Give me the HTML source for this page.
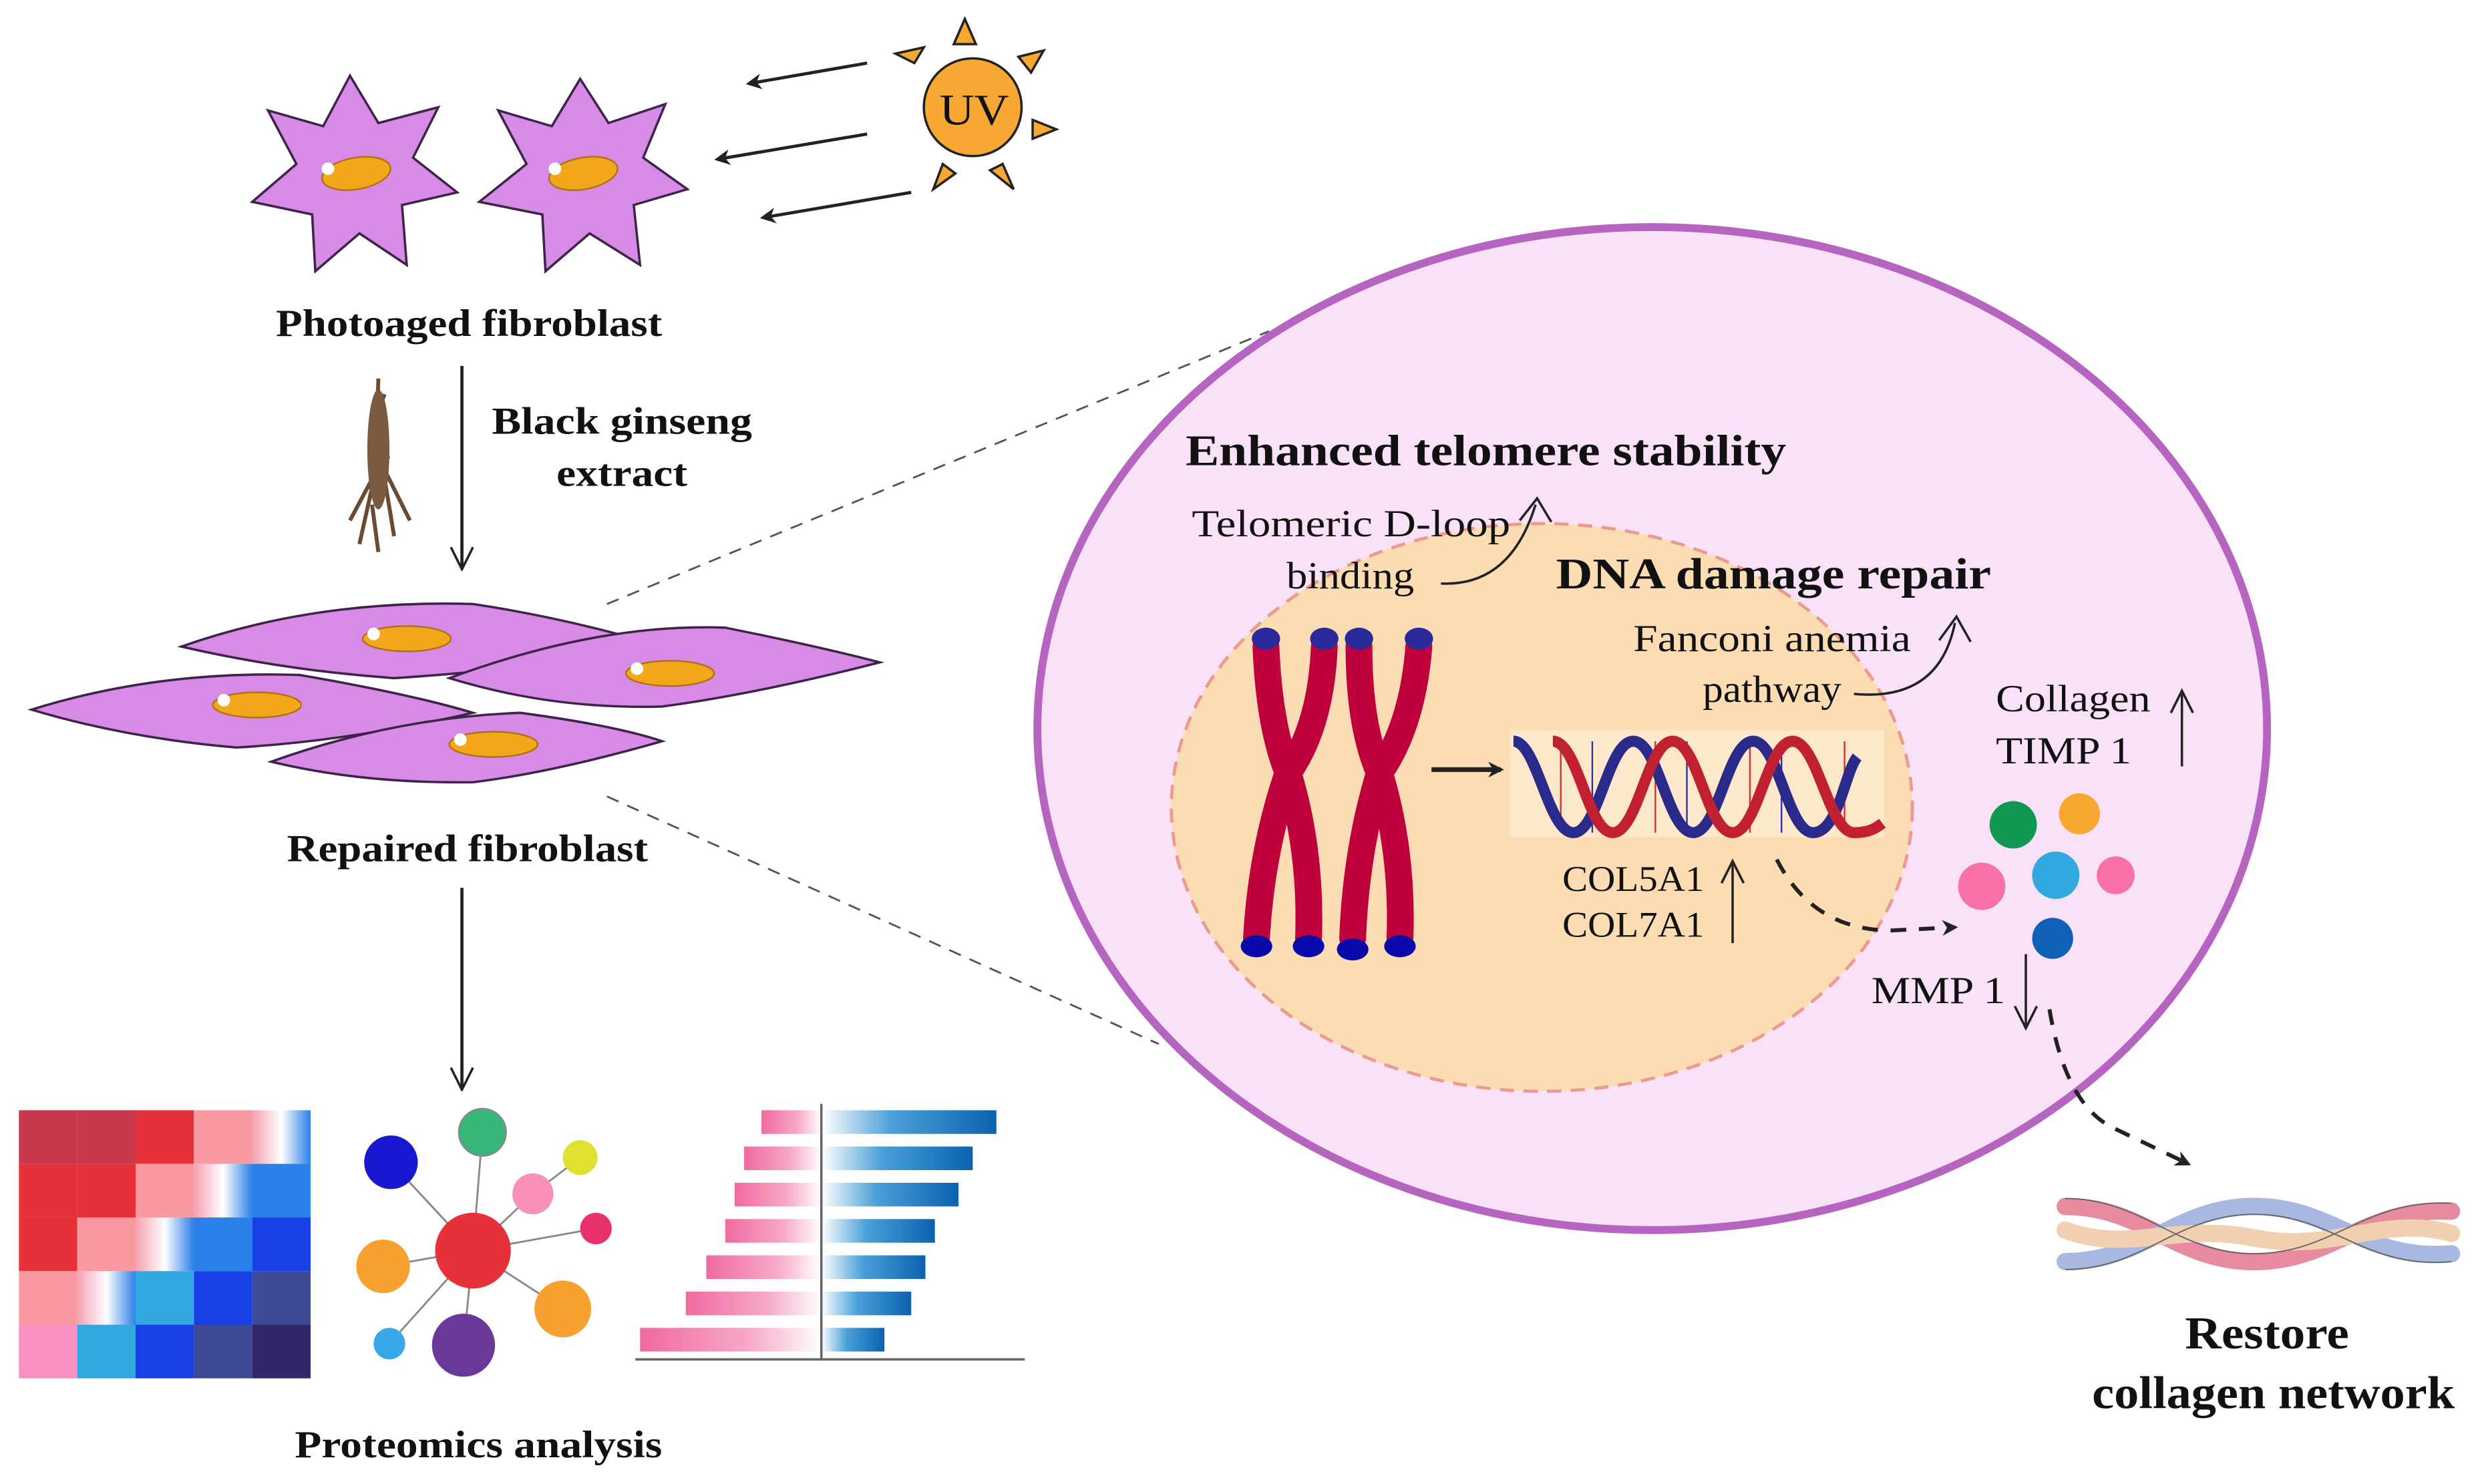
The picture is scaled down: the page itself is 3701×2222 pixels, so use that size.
<!DOCTYPE html>
<html><head><meta charset="utf-8"><style>
html,body{margin:0;padding:0;background:#fff}
svg{display:block}
text{font-family:"Liberation Serif",serif;fill:#111}
.b{font-weight:bold}
</style></head><body>
<svg width="3701" height="2222" viewBox="0 0 1568 941" preserveAspectRatio="none" xmlns="http://www.w3.org/2000/svg">
<defs>
<marker id="ah" markerWidth="10" markerHeight="10" refX="8" refY="5" orient="auto" markerUnits="userSpaceOnUse"><path d="M0,0 L10,5 L0,10 L3,5 z" fill="#222"/></marker>
<marker id="oa" markerWidth="16" markerHeight="16" refX="8" refY="14" orient="0" markerUnits="userSpaceOnUse"><path d="M1,1 L8,15 L15,1" fill="none" stroke="#222" stroke-width="1.5"/></marker>
<linearGradient id="pk" x1="0" x2="1"><stop offset="0" stop-color="#f06aa0"/><stop offset="0.6" stop-color="#f7a8c8"/><stop offset="1" stop-color="#fff"/></linearGradient>
<linearGradient id="bl" x1="0" x2="1"><stop offset="0" stop-color="#fff"/><stop offset="0.4" stop-color="#4aa0d8"/><stop offset="1" stop-color="#0a62b0"/></linearGradient>
<linearGradient id="hm1" x1="0" x2="1"><stop offset="0" stop-color="#f4a0b0"/><stop offset="0.5" stop-color="#fff"/><stop offset="1" stop-color="#2a80e8"/></linearGradient>
</defs>

<line x1="385" y1="383" x2="805" y2="210" stroke="#555" stroke-width="1.2" stroke-dasharray="8,6"/>
<line x1="385" y1="505" x2="735" y2="662" stroke="#555" stroke-width="1.2" stroke-dasharray="8,6"/>

<g stroke="#3d2448" stroke-width="1.5" fill="#d78ae6">
<path d="M222,48 L240,78 L278,68 L262,100 L290,122 L255,130 L258,168 L228,148 L200,172 L198,136 L160,128 L188,104 L170,70 L205,80 Z"/>
<path d="M368,50 L386,78 L422,66 L408,100 L436,120 L402,130 L406,168 L374,148 L346,172 L344,136 L304,128 L334,104 L316,70 L350,80 Z"/>
</g>
<g fill="#f2a81a" stroke="#b07010" stroke-width="1"><ellipse cx="226" cy="110" rx="22" ry="10" transform="rotate(-10 226 110)"/><ellipse cx="370" cy="110" rx="22" ry="10" transform="rotate(-10 370 110)"/></g>
<g fill="#fff"><circle cx="208" cy="107" r="4"/><circle cx="352" cy="107" r="4"/></g>

<g fill="#f7a833" stroke="#222" stroke-width="1.5">
<circle cx="617" cy="68" r="31"/>
<path d="M605,28 L612,12 L619,28Z"/><path d="M646,36 L662,32 L654,46Z"/><path d="M655,76 L670,82 L655,88Z"/>
<path d="M636,104 L643,120 L628,108Z"/><path d="M598,104 L592,120 L606,110Z"/><path d="M580,40 L568,34 L586,30Z"/>
</g>
<text x="596" y="79" font-size="28" textLength="44" lengthAdjust="spacingAndGlyphs">UV</text>
<g stroke="#222" stroke-width="2" marker-end="url(#ah)">
<line x1="550" y1="40" x2="475" y2="53"/><line x1="550" y1="85" x2="455" y2="101"/><line x1="578" y1="122" x2="484" y2="138"/>
</g>

<text x="175" y="213" font-size="24" class="b" textLength="245" lengthAdjust="spacingAndGlyphs">Photoaged fibroblast</text>
<line x1="293" y1="232" x2="293" y2="360" stroke="#222" stroke-width="2" marker-end="url(#oa)"/>
<text x="312" y="275" font-size="24" class="b" textLength="165" lengthAdjust="spacingAndGlyphs">Black ginseng</text>
<text x="353" y="308" font-size="24" class="b" textLength="83" lengthAdjust="spacingAndGlyphs">extract</text>
<g stroke="#6b4a32" stroke-width="2.5" fill="none">
<path d="M240,240 L238,300 L228,345 M240,280 L250,340 M238,300 L222,330 M245,300 L260,330 M236,320 L240,350 M244,250 L236,270 L246,290 L234,310"/>
</g>
<ellipse cx="240" cy="285" rx="7" ry="38" fill="#7a5a40"/>

<g fill="#d78ae6" stroke="#3d2448" stroke-width="1.5">
<path d="M115,410 Q200,380 300,383 Q360,392 420,410 Q330,425 250,430 Q180,425 115,410Z"/>
<path d="M285,430 Q380,395 460,398 Q520,410 558,420 Q480,440 420,448 Q350,450 285,430Z"/>
<path d="M20,450 Q100,425 190,428 Q260,440 300,452 Q220,470 150,474 Q80,468 20,450Z"/>
<path d="M172,483 Q250,455 330,452 Q390,460 420,470 Q350,490 300,496 Q230,497 172,483Z"/>
</g>
<g fill="#f2a81a" stroke="#b07010"><ellipse cx="258" cy="405" rx="28" ry="8"/><ellipse cx="425" cy="427" rx="28" ry="8"/><ellipse cx="163" cy="447" rx="28" ry="8"/><ellipse cx="313" cy="472" rx="28" ry="8"/></g>
<g fill="#fff"><circle cx="237" cy="402" r="4"/><circle cx="404" cy="424" r="4"/><circle cx="142" cy="444" r="4"/><circle cx="292" cy="469" r="4"/></g>

<text x="182" y="546" font-size="24" class="b" textLength="229" lengthAdjust="spacingAndGlyphs">Repaired  fibroblast</text>
<line x1="293" y1="563" x2="293" y2="690" stroke="#222" stroke-width="2" marker-end="url(#oa)"/>

<g>
<rect x="12" y="704" width="37" height="34" fill="#c8384a"/><rect x="49" y="704" width="37" height="34" fill="#c8384a"/><rect x="86" y="704" width="37" height="34" fill="#e8303a"/><rect x="123" y="704" width="37" height="34" fill="#f89aa0"/><rect x="160" y="704" width="37" height="34" fill="url(#hm1)"/>
<rect x="12" y="738" width="37" height="34" fill="#e8303a"/><rect x="49" y="738" width="37" height="34" fill="#e8303a"/><rect x="86" y="738" width="37" height="34" fill="#f89aa0"/><rect x="123" y="738" width="37" height="34" fill="url(#hm1)"/><rect x="160" y="738" width="37" height="34" fill="#2a80e8"/>
<rect x="12" y="772" width="37" height="34" fill="#e8303a"/><rect x="49" y="772" width="37" height="34" fill="#f89aa0"/><rect x="86" y="772" width="37" height="34" fill="url(#hm1)"/><rect x="123" y="772" width="37" height="34" fill="#2a80e8"/><rect x="160" y="772" width="37" height="34" fill="#1840e8"/>
<rect x="12" y="806" width="37" height="34" fill="#f89aa0"/><rect x="49" y="806" width="37" height="34" fill="url(#hm1)"/><rect x="86" y="806" width="37" height="34" fill="#30a8e0"/><rect x="123" y="806" width="37" height="34" fill="#1840e8"/><rect x="160" y="806" width="37" height="34" fill="#404898"/>
<rect x="12" y="840" width="37" height="34" fill="#f890c0"/><rect x="49" y="840" width="37" height="34" fill="#30a8e0"/><rect x="86" y="840" width="37" height="34" fill="#1840e8"/><rect x="123" y="840" width="37" height="34" fill="#404898"/><rect x="160" y="840" width="37" height="34" fill="#302868"/>
</g>

<g stroke="#888" stroke-width="1.2">
<line x1="300" y1="793" x2="248" y2="737"/><line x1="300" y1="793" x2="306" y2="718"/><line x1="300" y1="793" x2="338" y2="757"/><line x1="338" y1="757" x2="368" y2="734"/><line x1="300" y1="793" x2="378" y2="779"/><line x1="300" y1="793" x2="243" y2="803"/><line x1="300" y1="793" x2="357" y2="830"/><line x1="300" y1="793" x2="294" y2="853"/><line x1="300" y1="793" x2="247" y2="852"/>
</g>
<circle cx="300" cy="793" r="24" fill="#e8303a"/><circle cx="248" cy="737" r="17" fill="#1818d0"/><circle cx="306" cy="718" r="15" fill="#38b878" stroke="#888"/><circle cx="338" cy="757" r="13" fill="#f890b8"/><circle cx="368" cy="734" r="11" fill="#e0e030"/><circle cx="378" cy="779" r="10" fill="#e8306a"/><circle cx="243" cy="803" r="17" fill="#f8a030"/><circle cx="357" cy="830" r="18" fill="#f8a030"/><circle cx="294" cy="853" r="20" fill="#6a3898"/><circle cx="247" cy="852" r="10" fill="#38a8e8"/>

<g fill="url(#pk)">
<rect x="483" y="704" width="38" height="15"/><rect x="472" y="727" width="49" height="15"/><rect x="466" y="750" width="55" height="15"/><rect x="460" y="773" width="61" height="15"/><rect x="448" y="796" width="73" height="15"/><rect x="435" y="819" width="86" height="15"/><rect x="406" y="842" width="115" height="15"/>
</g>
<g fill="url(#bl)">
<rect x="521" y="704" width="111" height="15"/><rect x="521" y="727" width="96" height="15"/><rect x="521" y="750" width="87" height="15"/><rect x="521" y="773" width="72" height="15"/><rect x="521" y="796" width="66" height="15"/><rect x="521" y="819" width="57" height="15"/><rect x="521" y="842" width="40" height="15"/>
</g>
<line x1="521" y1="700" x2="521" y2="862" stroke="#666" stroke-width="1.5"/>
<line x1="403" y1="862" x2="650" y2="862" stroke="#666" stroke-width="1.5"/>

<text x="187" y="924" font-size="24" class="b" textLength="233" lengthAdjust="spacingAndGlyphs">Proteomics analysis</text>

<ellipse cx="1048" cy="462" rx="390" ry="318" fill="#f9e1f7" stroke="#b565c0" stroke-width="5"/>
<ellipse cx="978" cy="512" rx="235" ry="180" fill="#fbdcb3" stroke="#ec9a90" stroke-width="2" stroke-dasharray="9,6"/>

<text x="752" y="295" font-size="28" class="b" textLength="381" lengthAdjust="spacingAndGlyphs">Enhanced telomere stability</text>
<text x="756" y="340" font-size="24" textLength="202" lengthAdjust="spacingAndGlyphs">Telomeric D-loop</text>
<text x="816" y="373" font-size="24" textLength="81" lengthAdjust="spacingAndGlyphs">binding</text>
<path d="M914,370 Q958,372 974,320" fill="none" stroke="#222" stroke-width="1.5"/>
<path d="M964,330 L975,316 L984,331" fill="none" stroke="#222" stroke-width="1.5"/>
<text x="987" y="373" font-size="28" class="b" textLength="276" lengthAdjust="spacingAndGlyphs">DNA damage repair</text>
<text x="1036" y="413" font-size="24" textLength="176" lengthAdjust="spacingAndGlyphs">Fanconi anemia</text>
<text x="1080" y="445" font-size="24" textLength="88" lengthAdjust="spacingAndGlyphs">pathway</text>
<path d="M1176,440 Q1230,445 1240,395" fill="none" stroke="#222" stroke-width="1.5"/>
<path d="M1230,406 L1241,391 L1250,407" fill="none" stroke="#222" stroke-width="1.5"/>

<g fill="none" stroke="#c0003c" stroke-width="17" stroke-linecap="round">
<path d="M803,410 Q805,460 817,490 Q800,540 797,595"/>
<path d="M840,410 Q838,460 817,490 Q832,540 830,595"/>
<path d="M862,410 Q862,460 875,490 Q860,540 858,595"/>
<path d="M900,410 Q896,460 875,490 Q890,540 888,595"/>
</g>
<g fill="#2a2a9a"><ellipse cx="803" cy="405" rx="9" ry="7"/><ellipse cx="840" cy="405" rx="9" ry="7"/><ellipse cx="862" cy="405" rx="9" ry="7"/><ellipse cx="900" cy="405" rx="9" ry="7"/></g>
<g fill="#0a0aaa"><ellipse cx="797" cy="600" rx="10" ry="7"/><ellipse cx="830" cy="600" rx="10" ry="7"/><ellipse cx="858" cy="602" rx="10" ry="7"/><ellipse cx="888" cy="600" rx="10" ry="7"/></g>
<line x1="908" y1="488" x2="952" y2="488" stroke="#222" stroke-width="3" marker-end="url(#ah)"/>

<rect x="958" y="463" width="237" height="68" fill="#fde8cc"/>
<g stroke-width="1">
<line x1="990" y1="470" x2="990" y2="528" stroke="#d03030"/><line x1="1010" y1="470" x2="1010" y2="528" stroke="#3030a0"/><line x1="1050" y1="470" x2="1050" y2="528" stroke="#d03030"/><line x1="1070" y1="470" x2="1070" y2="528" stroke="#3030a0"/><line x1="1110" y1="470" x2="1110" y2="528" stroke="#d03030"/><line x1="1130" y1="470" x2="1130" y2="528" stroke="#3030a0"/><line x1="1170" y1="470" x2="1170" y2="528" stroke="#d03030"/>
</g>
<path d="M960,470 C975,470 982,528 998,528 C1014,528 1020,470 1036,470 C1052,470 1058,528 1074,528 C1090,528 1096,470 1112,470 C1128,470 1134,528 1150,528 C1166,528 1170,490 1178,480" fill="none" stroke="#2a2a8a" stroke-width="7"/>
<path d="M985,470 C1001,470 1007,528 1023,528 C1039,528 1045,470 1061,470 C1077,470 1083,528 1099,528 C1115,528 1121,470 1137,470 C1153,470 1160,528 1176,528 C1186,528 1190,525 1194,522" fill="none" stroke="#c02030" stroke-width="7"/>

<text x="991" y="565" font-size="23" textLength="90" lengthAdjust="spacingAndGlyphs">COL5A1</text>
<text x="991" y="594" font-size="23" textLength="90" lengthAdjust="spacingAndGlyphs">COL7A1</text>
<line x1="1099" y1="598" x2="1099" y2="548" stroke="#222" stroke-width="1.5"/>
<path d="M1092,560 L1099,546 L1106,560" fill="none" stroke="#222" stroke-width="1.5"/>

<path d="M1127,545 Q1150,590 1200,590 L1240,588" fill="none" stroke="#222" stroke-width="2.5" stroke-dasharray="10,8" marker-end="url(#ah)"/>
<text x="1266" y="451" font-size="24" textLength="98" lengthAdjust="spacingAndGlyphs">Collagen</text>
<text x="1266" y="484" font-size="24" textLength="86" lengthAdjust="spacingAndGlyphs">TIMP  1</text>
<line x1="1384" y1="486" x2="1384" y2="440" stroke="#222" stroke-width="1.5"/>
<path d="M1377,452 L1384,438 L1391,452" fill="none" stroke="#222" stroke-width="1.5"/>
<circle cx="1277" cy="523" r="15" fill="#109850"/><circle cx="1319" cy="516" r="13" fill="#f8a830"/><circle cx="1257" cy="562" r="15" fill="#f870a8"/><circle cx="1304" cy="555" r="15" fill="#30a8e0"/><circle cx="1342" cy="555" r="12" fill="#f870a8"/><circle cx="1302" cy="595" r="13" fill="#1060b8"/>
<text x="1187" y="636" font-size="24" textLength="85" lengthAdjust="spacingAndGlyphs">MMP 1</text>
<line x1="1285" y1="605" x2="1285" y2="650" stroke="#222" stroke-width="1.5"/>
<path d="M1278,638 L1285,652 L1292,638" fill="none" stroke="#222" stroke-width="1.5"/>
<path d="M1300,640 Q1310,700 1340,715 L1388,738" fill="none" stroke="#222" stroke-width="2.5" stroke-dasharray="10,8" marker-end="url(#ah)"/>

<g fill="none" stroke-width="11" stroke-linecap="round">
<path d="M1310,765 C1360,765 1380,800 1430,800 C1480,800 1500,765 1555,768" stroke="#e88aa0"/>
<path d="M1310,800 C1360,800 1380,765 1430,765 C1480,765 1500,800 1555,795" stroke="#a8b8e0"/>
<path d="M1310,780 C1350,795 1380,775 1430,785 C1480,795 1510,770 1555,782" stroke="#f0d0b0"/>
</g>
<g fill="none" stroke="#666" stroke-width="0.8">
<path d="M1310,760 C1360,760 1380,795 1430,795 C1480,795 1500,760 1555,763"/>
<path d="M1310,805 C1360,805 1380,770 1430,770 C1480,770 1500,805 1555,800"/>
</g>
<text x="1386" y="855" font-size="29" class="b" textLength="104" lengthAdjust="spacingAndGlyphs">Restore</text>
<text x="1327" y="893" font-size="29" class="b" textLength="230" lengthAdjust="spacingAndGlyphs">collagen network</text>
</svg>
</body></html>
